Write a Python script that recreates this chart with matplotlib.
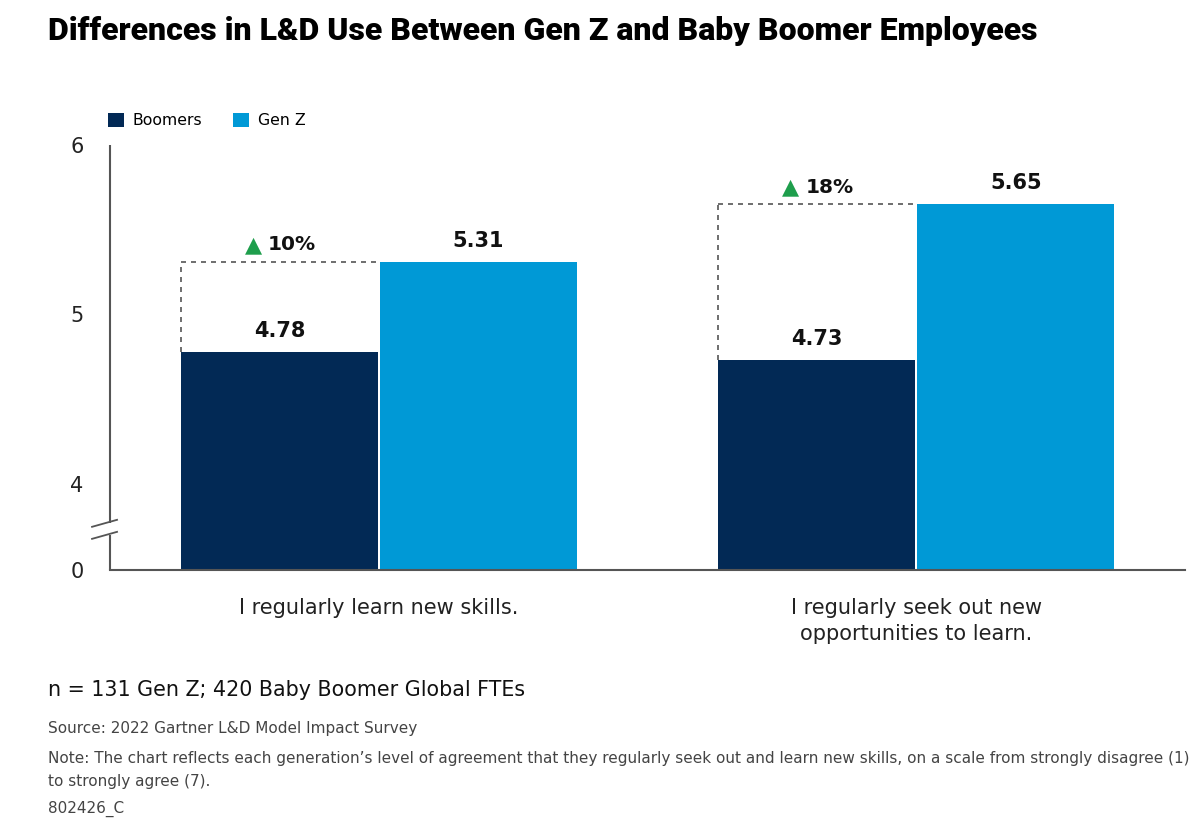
import numpy as np
import matplotlib
matplotlib.use("Agg")
import matplotlib.pyplot as plt
from matplotlib.transforms import blended_transform_factory

categories = ["I regularly learn new skills.", "I regularly seek out new\nopportunities to learn."]
boomers = [4.78, 4.73]
genz = [5.31, 5.65]
deltas = ["10%", "18%"]
series_names = ["Boomers", "Gen Z"]
yticks = [0, 4, 5, 6]

C_BOOM = "#022955"
C_GENZ = "#0099d6"
C_AXIS = "#555555"
C_GREEN = "#1e9e4c"

# broken-axis scale: 0..4 compressed into a short segment
BASE = 3.493
def fwd(y):
    y = np.asarray(y, dtype=float)
    return np.where(y >= 4, y, BASE + y * (4 - BASE) / 4.0)
def inv(u):
    u = np.asarray(u, dtype=float)
    return np.where(u >= 4, u, (u - BASE) * 4.0 / (4 - BASE))

plt.rcParams['font.family'] = ['DejaVu Sans']
fig = plt.figure(figsize=(12, 8.26), dpi=100)
ax = fig.add_axes([0.0917, 0.310, 0.8958, 0.5145])
ax.set_yscale('function', functions=(fwd, inv))
ax.set_ylim(0, 6.0)
ax.set_xlim(-0.5, 1.5)

x = np.arange(len(categories))
off = 0.185
w = 0.366
ax.bar(x - off, boomers, w, color=C_BOOM, label=series_names[0], zorder=2)
ax.bar(x + off, genz, w, color=C_GENZ, label=series_names[1], zorder=2)

for i in range(len(categories)):
    bx = x[i] - off
    ax.text(bx, boomers[i] + 0.065, f"{boomers[i]:.2f}", ha='center', va='bottom',
            fontsize=15, fontweight='bold', color='#111111')
    ax.text(x[i] + off, genz[i] + 0.065, f"{genz[i]:.2f}", ha='center', va='bottom',
            fontsize=15, fontweight='bold', color='#111111')
    left = bx - w / 2
    ax.plot([left, left], [boomers[i], genz[i]], ls=(0, (3, 3)), color='#555555', lw=1.2, zorder=3)
    ax.plot([left, x[i] + off - w / 2], [genz[i], genz[i]], ls=(0, (3, 3)), color='#555555', lw=1.2, zorder=3)
    ax.text(bx - 0.033, genz[i] + 0.1, "\u25B2", ha='right', va='center', fontsize=16,
            color=C_GREEN)
    ax.text(bx - 0.021, genz[i] + 0.1, deltas[i], ha='left', va='center', fontsize=14.5,
            fontweight='bold', color='#111111')

ax.set_yticks(yticks)
ax.set_yticklabels([str(t) for t in yticks])
ax.tick_params(axis='y', length=0, pad=19, labelsize=15, labelcolor='#222222')
ax.set_xticks(x)
ax.set_xticklabels(categories, fontsize=15, color='#222222', linespacing=1.4)
ax.tick_params(axis='x', length=0, pad=20)
for s in ['top', 'right']:
    ax.spines[s].set_visible(False)
ax.spines['left'].set_visible(False)
ax.spines['bottom'].set_color(C_AXIS)
ax.spines['bottom'].set_linewidth(1.5)

# left spine with break
tr = blended_transform_factory(ax.transAxes, ax.transData)
b_hi, b_lo = 2.17, 1.61
ax.plot([0, 0], [b_hi, 6.0], color=C_AXIS, lw=1.5, transform=tr, clip_on=False, solid_capstyle='butt')
ax.plot([0, 0], [0, b_lo], color=C_AXIS, lw=1.5, transform=tr, clip_on=False, solid_capstyle='butt')
for yb in (b_hi, b_lo):
    yb_disp = ax.transData.transform((0, yb))[1]
    x0 = ax.transAxes.transform((0, 0))[0]
    p1 = fig.transFigure.inverted().transform((x0 - 18, yb_disp - 3.5))
    p2 = fig.transFigure.inverted().transform((x0 + 7, yb_disp + 3.5))
    fig.add_artist(plt.Line2D([p1[0], p2[0]], [p1[1], p2[1]], color=C_AXIS, lw=1.3))

leg = ax.legend(loc='lower left', bbox_to_anchor=(-0.002, 1.04), ncol=2, frameon=False,
                fontsize=11.3, handlelength=1.0, handleheight=1.0, handletextpad=0.55,
                columnspacing=2.0, borderaxespad=0, borderpad=0)

fig.text(0.040, 0.963, "Differences in L&D Use Between Gen Z and Baby Boomer Employees",
         fontsize=23, fontweight='black', color='#000000', va='center', ha='left',
         family=['Roboto', 'DejaVu Sans'])
fig.text(0.040, 0.165, "n = 131 Gen Z; 420 Baby Boomer Global FTEs", fontsize=14.9,
         color='#111111', va='center', ha='left')
fig.text(0.040, 0.118, "Source: 2022 Gartner L&D Model Impact Survey", fontsize=11,
         color='#444444', va='center', ha='left')
fig.text(0.040, 0.068, "Note: The chart reflects each generation\u2019s level of agreement that they regularly seek out and learn new skills, on a scale from strongly disagree (1)\nto strongly agree (7).",
         fontsize=11, color='#444444', va='center', ha='left', linespacing=1.7)
fig.text(0.040, 0.021, "802426_C", fontsize=11, color='#444444', va='center', ha='left')

fig.savefig("out.png", dpi=100)
